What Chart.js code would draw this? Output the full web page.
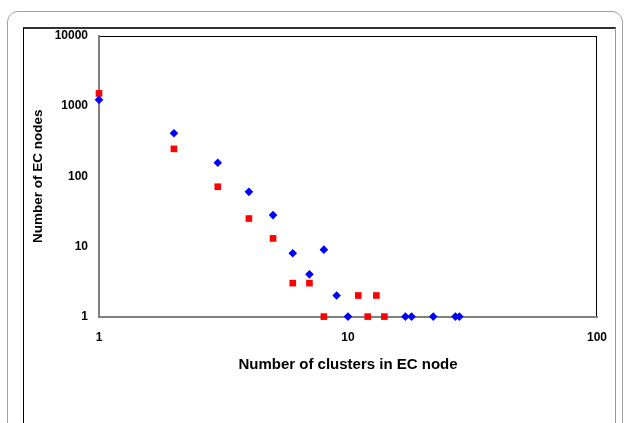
<!DOCTYPE html>
<html lang="en">
  <head>
    <meta charset="UTF-8" />
    <title>EC node clusters</title>
    <script src="https://cdn.jsdelivr.net/npm/chart.js"></script>
    <style>
      body {
        margin: 0;
        width: 628px;
        height: 423px;
        overflow: hidden;
        background: #fff;
        position: relative;
        font-family: "Liberation Sans", Arial, sans-serif;
      }
      #outer {
        position: absolute;
        left: 7px;
        top: 11px;
        width: 614px;
        height: 440px;
        border: 1px solid #a0a0a0;
        border-radius: 11px;
      }
      #inner {
        position: absolute;
        left: 23px;
        top: 27px;
        width: 591px;
        height: 420px;
        border-top: 2px solid #333;
        border-left: 1px solid #000;
        border-right: 1px solid #999;
      }
      #chartWrap {
        position: absolute;
        left: 0;
        top: 0;
        width: 628px;
        height: 423px;
      }
    </style>
  </head>
  <body>
    <div id="outer"></div>
    <div id="inner"></div>
    <div id="chartWrap"><canvas id="myChart"></canvas></div>

    <script>
      // clusters per EC node (x) vs number of EC nodes (y)
      const blueX = [1, 2, 3, 4, 5, 6, 7, 8, 9, 10, 17, 18, 22, 27, 28];
      const blueY = [1230, 410, 156, 60, 28, 8, 4, 9, 2, 1, 1, 1, 1, 1, 1];
      const redX = [1, 2, 3, 4, 5, 6, 7, 8, 11, 12, 13, 14];
      const redY = [1520, 246, 71, 25, 13, 3, 3, 1, 2, 1, 2, 1];
      const xTicks = [1, 10, 100];
      const yTicks = [1, 10, 100, 1000, 10000];

      const toPoints = (xs, ys) => xs.map((x, i) => ({ x: x, y: ys[i] }));

      const plotFrame = {
        id: "plotFrame",
        beforeDraw(chart) {
          const { ctx, chartArea: a } = chart;
          ctx.save();
          ctx.strokeStyle = "#000";
          ctx.lineWidth = 1;
          ctx.strokeRect(a.left, a.top + 0.5, a.right - a.left - 0.5, a.bottom - a.top);
          ctx.restore();
        },
      };

      const tickFont = { family: "Liberation Sans", size: 12, weight: "bold" };

      new Chart(document.getElementById("myChart"), {
        type: "scatter",
        data: {
          datasets: [
            {
              label: "series 1",
              data: toPoints(blueX, blueY),
              pointStyle: "rectRot",
              pointRadius: 4.3,
              backgroundColor: "#0000ff",
              borderColor: "#0000ff",
              borderWidth: 0,
              clip: false,
            },
            {
              label: "series 2",
              data: toPoints(redX, redY),
              pointStyle: "rect",
              pointRadius: 4.7,
              backgroundColor: "#ff0000",
              borderColor: "#ff0000",
              borderWidth: 0,
              clip: false,
            },
          ],
        },
        options: {
          responsive: true,
          maintainAspectRatio: false,
          animation: false,
          layout: {
            padding: { left: 0, top: 36, right: 31, bottom: 49 },
          },
          plugins: {
            legend: { display: false },
            tooltip: { enabled: false },
          },
          scales: {
            x: {
              type: "logarithmic",
              min: 1,
              max: 100,
              afterBuildTicks: (scale) => {
                scale.ticks = xTicks.map((v) => ({ value: v }));
              },
              grid: { display: false, drawTicks: false },
              border: { display: true, color: "#808080", width: 2 },
              ticks: {
                color: "#000",
                font: tickFont,
                padding: 14,
                maxRotation: 0,
                callback: (v) => String(v),
              },
              title: {
                display: true,
                text: "Number of clusters in EC node",
                color: "#000",
                font: { family: "Liberation Sans", size: 15, weight: "bold" },
                padding: { top: -3, bottom: 0 },
              },
            },
            y: {
              type: "logarithmic",
              min: 1,
              max: 10000,
              afterBuildTicks: (scale) => {
                scale.ticks = yTicks.map((v) => ({ value: v }));
              },
              afterFit: (scale) => {
                scale.width = 99;
              },
              grid: { display: false, drawTicks: false },
              border: { display: true, color: "#808080", width: 2 },
              ticks: {
                color: "#000",
                font: tickFont,
                padding: 11,
                callback: (v) => String(v),
              },
              title: {
                display: true,
                text: "Number of EC nodes",
                color: "#000",
                font: { family: "Liberation Sans", size: 13.5, weight: "bold" },
                padding: { top: 30, bottom: 0 },
              },
            },
          },
        },
        plugins: [plotFrame],
      });
    </script>
  </body>
</html>
